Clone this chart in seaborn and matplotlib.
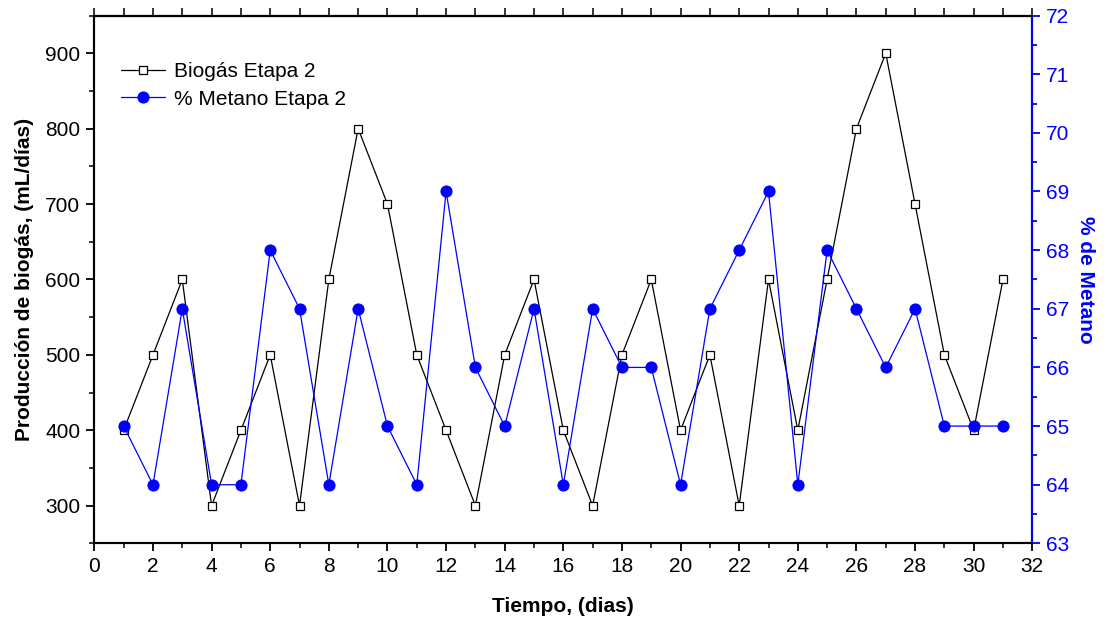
import matplotlib
matplotlib.use("Agg")
import matplotlib.pyplot as plt
import seaborn as sns
import pandas as pd
from matplotlib.ticker import MultipleLocator

sns.set_style("white")
plt.rcParams['font.family'] = ['Liberation Sans', 'DejaVu Sans']
plt.rcParams['text.color'] = 'black'
plt.rcParams['axes.labelcolor'] = 'black'

dias = list(range(1, 32))
biogas = [400, 500, 600, 300, 400, 500, 300, 600, 800, 700, 500, 400, 300, 500, 600,
          400, 300, 500, 600, 400, 500, 300, 600, 400, 600, 800, 900, 700, 500, 400, 600]
metano = [65, 64, 67, 64, 64, 68, 67, 64, 67, 65, 64, 69, 66, 65, 67,
          64, 67, 66, 66, 64, 67, 68, 69, 64, 68, 67, 66, 67, 65, 65, 65]

df = pd.DataFrame({"dia": dias, "biogas": biogas, "metano": metano})

fig = plt.figure(figsize=(11.1, 6.21), dpi=100)
ax = fig.add_axes([0.085, 0.125, 0.845, 0.85])
ax2 = ax.twinx()

sns.lineplot(data=df, x="dia", y="biogas", ax=ax, color="black", marker="s",
             markersize=6, markerfacecolor="white", markeredgecolor="black",
             markeredgewidth=0.9, linewidth=0.9, label="Biogás Etapa 2", legend=False)
sns.lineplot(data=df, x="dia", y="metano", ax=ax2, color="#0000FF", marker="o",
             markersize=8, markerfacecolor="#0000FF", markeredgecolor="#0000FF",
             linewidth=0.9, label="% Metano Etapa 2", legend=False)

ax.set_xlim(0, 32)
ax.set_ylim(250, 950)
ax2.set_ylim(63, 72)

ax.xaxis.set_major_locator(MultipleLocator(2))
ax.xaxis.set_minor_locator(MultipleLocator(1))
ax.yaxis.set_minor_locator(MultipleLocator(50))
ax2.yaxis.set_major_locator(MultipleLocator(1))
ax2.yaxis.set_minor_locator(MultipleLocator(0.5))
ax.set_yticks([300, 400, 500, 600, 700, 800, 900])

for a in (ax, ax2):
    for s in a.spines.values():
        s.set_linewidth(1.5)
        s.set_color("black")
ax2.spines['right'].set_color("#0000FF")

ax.tick_params(axis='both', which='major', direction='out', length=6, width=1.3,
               labelsize=15, colors='black', left=True, bottom=True, pad=4)
ax.tick_params(axis='both', which='minor', direction='out', length=3.5, width=1.3,
               left=True, bottom=True)
ax2.tick_params(axis='y', which='major', direction='out', length=6, width=1.3,
                labelsize=15, colors='#0000FF', right=True, pad=4)
ax2.tick_params(axis='y', which='minor', direction='out', length=3.5, width=1.3,
                colors='#0000FF', right=True)

top = ax.secondary_xaxis('top')
top.set_xticks(range(0, 33))
top.tick_params(direction='out', length=5.5, width=1.3, labeltop=False)
top.set_xticklabels([])
top.spines['top'].set_linewidth(1.5)

ax.set_xlabel("Tiempo, (dias)", fontsize=15, fontweight='bold', labelpad=15)
ax.set_ylabel("Producción de biogás, (mL/días)", fontsize=15, fontweight='bold', labelpad=8)
ax2.set_ylabel("% de Metano", fontsize=15, fontweight='bold', color='#0000FF',
               rotation=270, labelpad=18)

h1, l1 = ax.get_legend_handles_labels()
h2, l2 = ax2.get_legend_handles_labels()
ax2.legend(h1 + h2, l1 + l2, loc='upper left', bbox_to_anchor=(0.019, 0.927),
           frameon=False, fontsize=15, handlelength=2.15, handletextpad=0.43,
           labelspacing=0.4, borderaxespad=0)

fig.savefig("out.png", dpi=100)
